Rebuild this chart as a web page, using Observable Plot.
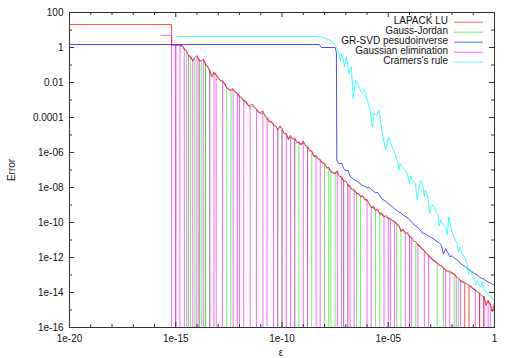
<!DOCTYPE html>
<html><head><meta charset="utf-8">
<script src="https://cdn.jsdelivr.net/npm/d3@7"></script>
<script src="https://cdn.jsdelivr.net/npm/@observablehq/plot@0.6"></script>
<style>body{margin:0;background:#fff;} #chart{width:512px;height:358px;}</style>
</head><body><div id="chart"></div>
<script>
// log10 of an exact zero error: drawn as a drop through the bottom of the frame
const Z = -300;
const seriesNames = ["LAPACK LU","Gauss-Jordan","GR-SVD pesudoinverse","Gaussian elimination","Cramers's rule"];
const seriesColors = ["#ff0000","#00ee00","#0000ff","#ff00ff","#00ffff"];
const xMajorTicks = [1e-20,1e-15,1e-10,1e-5,1];
const xTickLabels = ["1e-20","1e-15","1e-10","1e-05","1"];
const xMinorTicks = [1e-19,1e-18,1e-17,1e-16,1e-14,1e-13,1e-12,1e-11,1e-9,1e-8,1e-7,1e-6,1e-4,1e-3,1e-2,1e-1];
const yMajorTicks = [100,1,1e-2,1e-4,1e-6,1e-8,1e-10,1e-12,1e-14,1e-16];
const yTickLabels = ["100","1","0.01","0.0001","1e-06","1e-08","1e-10","1e-12","1e-14","1e-16"];
const yMinorTicks = [10,1e-1,1e-3,1e-5,1e-7,1e-9,1e-11,1e-13,1e-15];

// log10(epsilon) sample grid shared by the three LU-type solvers
const epsGrid = [
-15,-14.9,-14.8,-14.7,-14.6,-14.5,-14.4,-14.3,-14.2,-14.1,
-14,-13.9,-13.8,-13.7,-13.6,-13.5,-13.4,-13.3,-13.2,-13.1,
-13,-12.9,-12.8,-12.7,-12.6,-12.5,-12.4,-12.3,-12.2,-12.1,
-12,-11.9,-11.8,-11.7,-11.6,-11.5,-11.4,-11.3,-11.2,-11.1,
-11,-10.9,-10.8,-10.7,-10.6,-10.5,-10.4,-10.3,-10.2,-10.1,
-10,-9.9,-9.8,-9.7,-9.6,-9.5,-9.4,-9.3,-9.2,-9.1,
-9,-8.9,-8.8,-8.7,-8.6,-8.5,-8.4,-8.3,-8.2,-8.1,
-8,-7.9,-7.8,-7.7,-7.6,-7.5,-7.4,-7.3,-7.2,-7.1,
-7,-6.9,-6.8,-6.7,-6.6,-6.5,-6.4,-6.3,-6.2,-6.1,
-6,-5.9,-5.8,-5.7,-5.6,-5.5,-5.4,-5.3,-5.2,-5.1,
-5,-4.9,-4.8,-4.7,-4.6,-4.5,-4.4,-4.3,-4.2,-4.1,
-4,-3.9,-3.8,-3.7,-3.6,-3.5,-3.4,-3.3,-3.2,-3.1,
-3,-2.9,-2.8,-2.7,-2.6,-2.5,-2.4,-2.3,-2.2,-2.1,
-2,-1.9,-1.8,-1.7,-1.6,-1.5,-1.4,-1.3,-1.2,-1.1,
-1,-0.9,-0.8,-0.7,-0.6,-0.5,-0.4,-0.3,-0.2,-0.1,
0];

// LAPACK LU: [log10 eps, log10 error] before the grid, then log10 error on the grid
const luLead = [[-20,1.31],[-15.2,1.31],[-15.19,0.13]];
const luErr = [
0.13,0.13,0.13,0.08,-0.10,-0.18,-0.48,-0.50,-0.78,-0.56,
-0.46,-0.74,-0.78,-0.66,-0.98,-1.06,-1.36,-1.70,-1.40,-1.58,
-1.70,-1.90,-1.88,-2.10,-2.28,-2.44,-2.40,-2.34,-2.56,-2.58,
-2.82,-2.84,-3.06,-3.06,-3.32,-3.30,-3.24,-3.44,-3.50,-3.72,
-3.70,-3.62,-3.94,-4.00,-4.26,-4.20,-4.42,-4.46,-4.72,-4.48,
-4.62,-4.92,-4.90,-5.26,-5.02,-5.24,-5.16,-5.44,-5.40,-5.58,
-5.34,-5.60,-5.64,-5.92,-5.90,-6.24,-6.16,-6.38,-6.40,-6.62,
-6.60,-6.90,-6.84,-7.10,-7.14,-7.22,-7.04,-7.38,-7.36,-7.66,
-7.62,-7.88,-7.90,-8.14,-8.10,-8.34,-8.34,-8.54,-8.46,-8.72,
-8.68,-8.94,-9.16,-9.06,-9.32,-9.24,-9.52,-9.46,-9.68,-9.60,
-9.78,-9.76,-9.90,-9.92,-10.10,-10.18,-10.52,-10.38,-10.64,-10.56,
-10.82,-10.86,-11.08,-11.10,-11.30,-11.34,-11.54,-11.58,-11.80,-11.84,
-12.04,-12.10,-12.26,-12.28,-12.46,-12.44,-12.64,-12.68,-12.80,-12.76,
-12.90,-12.92,-13.12,-13.16,-13.36,-13.34,-13.48,Z,-13.62,-13.64,
-13.82,-13.82,-13.98,-14.02,Z,-14.20,-14.76,-14.44,-14.72,-15.10,
-14.60];

// Gauss-Jordan on the grid
const gjErr = [
0.13,0.13,0.13,0.10,-0.02,-0.22,Z,-0.55,-0.74,-0.62,
Z,-0.68,-0.82,Z,-0.92,Z,-1.30,-1.60,-1.50,-1.56,
-1.78,-1.86,-1.98,-2.06,-2.34,Z,-2.50,-2.46,-2.52,-2.66,
-2.80,-2.92,-3.02,-3.16,-3.28,-3.42,-3.36,-3.40,-3.58,-3.70,
-3.82,-3.74,-3.90,-4.10,-4.22,-4.30,-4.40,-4.56,-4.66,Z,
-4.72,-4.88,-5.00,-5.22,-5.16,-5.20,-5.28,Z,-5.50,-5.54,
-5.46,-5.56,-5.74,Z,-6.00,-6.20,-6.26,-6.34,-6.50,-6.58,
-6.70,Z,-6.94,-7.06,Z,-7.18,-7.16,-7.34,-7.46,-7.62,
Z,-7.84,-8.00,-8.10,-8.20,-8.30,Z,-8.50,-8.56,-8.68,
-8.78,-8.90,-9.10,-9.18,-9.28,Z,-9.48,-9.56,-9.64,-9.70,
-9.76,-9.88,-9.86,-10.02,-10.06,Z,-10.40,-10.48,-10.62,-10.66,
-10.80,Z,Z,-11.20,-11.26,-11.44,-11.50,-11.66,-11.76,-11.94,
-12.00,-12.20,-12.22,-12.38,Z,Z,-12.60,-12.78,-12.78,-12.88,
-12.88,-13.02,Z,-13.26,-13.32,-13.44,-13.46,-13.54,-13.60,-13.74,
-13.80,-13.90,-13.96,-14.10,-14.20,-14.30,-14.60,-14.54,-14.70,-14.90,
-14.70];

// Gaussian elimination: lead-in, then on the grid
const geLead = [[-15.7,0.69],[-15.2,0.69],[-15.17,Z]];
const geErr = [
0.13,Z,0.13,0.10,-0.02,Z,-0.42,-0.55,-0.74,Z,
-0.50,-0.68,Z,-0.70,-0.92,-1.12,-1.30,Z,-1.45,-1.52,
Z,Z,-1.95,-2.02,-2.32,-2.36,-2.46,-2.40,Z,-2.64,
-2.75,Z,-2.98,-3.12,-3.26,-3.38,Z,Z,-3.56,-3.64,
-3.78,-3.68,Z,-4.06,-4.18,-4.28,-4.34,Z,-4.64,-4.54,
-4.68,Z,-4.96,-5.20,-5.10,Z,-5.22,-5.38,-5.46,-5.50,
-5.40,Z,-5.70,-5.84,-5.96,-6.16,-6.22,Z,-6.45,-6.55,
-6.66,-6.82,-6.90,-7.02,-7.20,-7.14,-7.10,Z,-7.42,-7.58,
Z,-7.80,-7.96,Z,-8.16,-8.26,-8.40,-8.46,-8.52,-8.64,
-8.74,Z,-9.12,-9.14,-9.24,-9.30,-9.44,-9.52,-9.60,Z,
-9.72,-9.84,Z,-9.98,-10.02,-10.24,-10.46,-10.44,-10.58,Z,
-10.76,-10.92,Z,Z,-11.22,-11.40,-11.46,-11.64,Z,-11.90,
-11.96,-12.16,-12.18,-12.34,-12.38,-12.50,-12.56,-12.74,Z,-12.84,
-12.84,-12.98,-13.04,Z,-13.28,-13.40,-13.42,-13.50,-13.56,-13.70,
-13.76,-13.86,Z,-14.06,-14.16,-14.26,Z,-14.50,-14.64,Z,
-14.60];

// GR-SVD pseudoinverse: [log10 eps, log10 error]
const svdErr = [[-20,0.17],[-8.25,0.17],[-8.15,0.0],[-7.5,0.0],[-7.44,-0.3],[-7.42,-6.46],[-7.3,-6.65],[-7.2,-6.6],[-7.1,-6.9],[-7.0,-7.05],[-6.9,-7.0],[-6.8,-7.35],[-6.7,-7.45],[-6.6,-7.55],[-6.5,-7.62],[-6.4,-7.7],[-6.3,-7.8],[-6.2,-7.9],[-6.1,-7.92],[-6.0,-8.02],[-5.9,-8.0],[-5.8,-8.1],[-5.7,-8.2],[-5.6,-8.3],[-5.5,-8.28],[-5.4,-8.45],[-5.3,-8.65],[-5.2,-8.72],[-5.1,-8.8],[-5.0,-8.92],[-4.9,-9.0],[-4.8,-9.1],[-4.7,-9.22],[-4.6,-9.3],[-4.5,-9.4],[-4.4,-9.45],[-4.3,-9.58],[-4.2,-9.65],[-4.1,-9.72],[-4.0,-9.85],[-3.9,-9.98],[-3.8,-10.1],[-3.7,-10.2],[-3.6,-10.3],[-3.5,-10.42],[-3.4,-10.6],[-3.3,-10.62],[-3.2,-10.7],[-3.1,-10.78],[-3.0,-10.85],[-2.9,-10.92],[-2.8,-11.0],[-2.7,-11.1],[-2.6,-11.16],[-2.5,-11.3],[-2.4,-11.8],[-2.3,-11.5],[-2.2,-11.72],[-2.1,-11.95],[-2.0,-11.9],[-1.9,-12.02],[-1.8,-12.1],[-1.7,-12.18],[-1.6,-12.35],[-1.5,-12.42],[-1.4,-12.5],[-1.3,-12.62],[-1.2,-12.7],[-1.1,-12.78],[-1.0,-12.86],[-0.9,-12.95],[-0.8,-13.0],[-0.7,-13.12],[-0.6,-13.2],[-0.5,-13.22],[-0.4,-13.34],[-0.3,-13.4],[-0.2,-13.45],[-0.1,-13.52],[0,-13.6]];

// Cramer's rule: [log10 eps, log10 error]
const cramerErr = [[-14.93,0.63],[-8.5,0.63],[-8.1,0.58],[-7.8,0.45],[-7.6,0.32],[-7.5,0.15],[-7.4,-0.1],[-7.33,-0.3],[-7.25,-0.73],[-7.17,-0.34],[-7.06,-1.1],[-6.96,-0.54],[-6.85,-1.49],[-6.74,-1.1],[-6.65,-2.91],[-6.54,-1.87],[-6.38,-2.25],[-6.25,-2.6],[-6.1,-2.4],[-5.99,-3.01],[-5.85,-3.6],[-5.75,-4.54],[-5.68,-3.77],[-5.55,-3.9],[-5.44,-3.58],[-5.28,-4.91],[-5.13,-5.87],[-4.97,-5.11],[-4.85,-5.6],[-4.74,-5.87],[-4.58,-6.44],[-4.5,-7.0],[-4.45,-6.6],[-4.34,-6.82],[-4.22,-6.95],[-4.11,-7.2],[-4.0,-7.8],[-3.94,-7.35],[-3.87,-7.58],[-3.72,-7.77],[-3.64,-8.73],[-3.55,-7.9],[-3.48,-7.58],[-3.36,-7.9],[-3.3,-8.5],[-3.25,-8.15],[-3.13,-8.6],[-3.05,-9.5],[-3.01,-9.1],[-2.9,-9.0],[-2.78,-9.3],[-2.66,-9.55],[-2.6,-10.2],[-2.54,-9.87],[-2.42,-10.1],[-2.31,-10.25],[-2.22,-10.7],[-2.15,-9.68],[-2.03,-10.4],[-1.92,-10.82],[-1.76,-11.2],[-1.7,-11.7],[-1.64,-11.4],[-1.52,-11.77],[-1.4,-12.0],[-1.29,-12.34],[-1.22,-12.95],[-1.15,-12.7],[-0.98,-13.11],[-0.9,-13.55],[-0.82,-13.3],[-0.66,-13.68],[-0.58,-13.4],[-0.5,-13.8],[-0.35,-14.06],[-0.2,-14.2],[-0.04,-14.44],[0,-14.3]];

// ---- build tables ----
const fromPairs = pairs => pairs.map(([e, v]) => ({x: 10 ** e, y: 10 ** v}));
const fromGrid = vals => vals.map((v, i) => ({x: 10 ** epsGrid[i], y: 10 ** v}));
const tables = {
  "LAPACK LU": fromPairs(luLead).concat(fromGrid(luErr)),
  "Gauss-Jordan": fromGrid(gjErr),
  "GR-SVD pesudoinverse": fromPairs(svdErr),
  "Gaussian elimination": fromPairs(geLead).concat(fromGrid(geErr)),
  "Cramers's rule": fromPairs(cramerErr)
};
const colorOf = Object.fromEntries(seriesNames.map((n, i) => [n, seriesColors[i]]));
const opacityOf = {"LAPACK LU": 0.7, "Gauss-Jordan": 0.6, "GR-SVD pesudoinverse": 0.7, "Gaussian elimination": 0.6, "Cramers's rule": 0.75};
const drawOrder = ["Gauss-Jordan", "Gaussian elimination", "LAPACK LU", "GR-SVD pesudoinverse", "Cramers's rule"];

const W = 512, H = 358, mL = 69, mR = 18, mT = 12, mB = 31;
const pw = W - mL - mR, ph = H - mT - mB;
const tickCol = "#333";
const xLab = new Map(xMajorTicks.map((d, i) => [d, xTickLabels[i]]));
const yLab = new Map(yMajorTicks.map((d, i) => [d, yTickLabels[i]]));
const tX = (vals, len) => [
  Plot.tickX(vals, {insetTop: ph - len, stroke: tickCol}),
  Plot.tickX(vals, {insetBottom: ph - len, stroke: tickCol})];
const tY = (vals, len) => [
  Plot.tickY(vals, {insetRight: pw - len, stroke: tickCol}),
  Plot.tickY(vals, {insetLeft: pw - len, stroke: tickCol})];

const svg = Plot.plot({
  width: W, height: H, marginLeft: mL, marginRight: mR, marginTop: mT, marginBottom: mB,
  x: {type: "log", domain: [1e-20, 1]},
  y: {type: "log", domain: [1e-16, 100]},
  style: {fontFamily: "'Liberation Sans', Arial, sans-serif", fontSize: "10px", background: "#fff", color: "#111"},
  marks: [
    ...drawOrder.map(n => Plot.line(tables[n], {x: "x", y: "y", stroke: colorOf[n], strokeWidth: 1, strokeOpacity: opacityOf[n], clip: true})),
    Plot.frame({stroke: tickCol}),
    ...tX(xMajorTicks, 5), ...tX(xMinorTicks, 3),
    ...tY(yMajorTicks, 5), ...tY(yMinorTicks, 3),
    Plot.axisX({ticks: xMajorTicks, tickFormat: d => xLab.get(d), tickSize: 0, tickPadding: 7, label: null}),
    Plot.axisY({ticks: yMajorTicks, tickFormat: d => yLab.get(d), tickSize: 0, tickPadding: 6, label: null})
  ]
});
document.getElementById("chart").appendChild(svg);

// axis titles and legend
const s = d3.select(svg);
const font = "'Liberation Sans', Arial, sans-serif";
s.append("text").attr("x", 281).attr("y", 353).attr("text-anchor", "middle").attr("dominant-baseline", "middle")
  .attr("font-family", font).attr("font-size", 10).attr("fill", "#111").text("ε");
s.append("text").attr("transform", "translate(12,170) rotate(-90)").attr("text-anchor", "middle").attr("dominant-baseline", "middle")
  .attr("font-family", font).attr("font-size", 10).attr("fill", "#111").text("Error");
const lg = s.append("g");
seriesNames.forEach((n, i) => {
  const y = 21.7 + i * 10;
  lg.append("text").attr("x", 448).attr("y", y).attr("text-anchor", "end").attr("dominant-baseline", "middle")
    .attr("font-family", font).attr("font-size", 10).attr("fill", "#111").text(n);
  lg.append("line").attr("x1", 454).attr("x2", 483).attr("y1", y + 0.5).attr("y2", y + 0.5)
    .attr("stroke", seriesColors[i]).attr("stroke-opacity", 0.6);
});
</script></body></html>
